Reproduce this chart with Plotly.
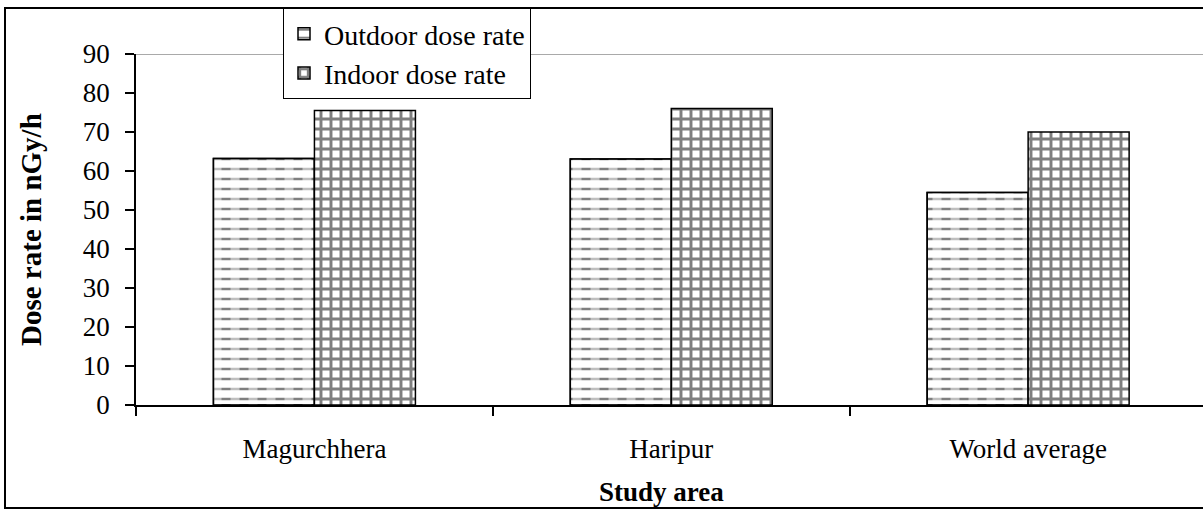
import plotly.graph_objects as go

categories = ["Magurchhera", "Haripur", "World average"]
outdoor = [63.2, 63.1, 54.5]
indoor = [75.5, 76.0, 70.0]
series_names = ["Outdoor dose rate", "Indoor dose rate"]
y_ticks = [0, 10, 20, 30, 40, 50, 60, 70, 80, 90]

W, H = 1203, 512
L, R, T, B = 136, 0, 54, 107
pw, ph = W - L - R, H - T - B

def px(x):
    return (x - L) / pw

def py(y):
    return (H - B - y) / ph

FONT = "Liberation Serif"
bw = 0.283

fig = go.Figure()
fig.add_trace(go.Bar(
    x=categories, y=outdoor, name=series_names[0], width=bw, offset=-bw,
    marker=dict(color="white", line=dict(color="black", width=1.5),
                pattern=dict(shape="-", size=10, solidity=0.25, fgcolor="black", bgcolor="white")),
    legendgroup="a",
))
fig.add_trace(go.Bar(
    x=categories, y=outdoor, width=bw, offset=-bw, showlegend=False, hoverinfo="skip",
    marker=dict(color="rgba(0,0,0,0)", line=dict(color="black", width=1.5),
                pattern=dict(shape="|", size=18, solidity=0.5, fgcolor="white",
                             bgcolor="rgba(0,0,0,0)", fillmode="overlay")),
))
fig.add_trace(go.Bar(
    x=categories, y=indoor, name=series_names[1], width=bw, offset=0,
    marker=dict(color="white", line=dict(color="black", width=1.5),
                pattern=dict(shape="+", size=10, solidity=0.5, fgcolor="black", bgcolor="white")),
    legendgroup="b",
))

shapes = [
    dict(type="line", xref="paper", yref="y", x0=0, x1=1, y0=90, y1=90,
         line=dict(color="#8c8c8c", width=1.5), layer="below"),
    dict(type="rect", xref="paper", yref="paper", x0=px(5), x1=px(1215), y0=py(8), y1=py(508),
         line=dict(color="black", width=2), fillcolor="rgba(0,0,0,0)", layer="below"),
]

fig.update_layout(
    width=W, height=H,
    margin=dict(l=L, r=R, t=T, b=B),
    paper_bgcolor="white", plot_bgcolor="white",
    barmode="overlay",
    font=dict(family=FONT, color="black", size=27),
    showlegend=True,
    legend=dict(x=px(283), y=py(8), xanchor="left", yanchor="top",
                bgcolor="white", bordercolor="black", borderwidth=1,
                font=dict(size=28, family=FONT), tracegroupgap=5,
                traceorder="normal"),
    shapes=shapes,
    annotations=[
        dict(text="<b>Dose rate in nGy/h</b>", xref="paper", yref="paper",
             x=px(31), y=py(230), textangle=-90, showarrow=False,
             font=dict(size=29, family=FONT), xanchor="center", yanchor="middle"),
        dict(text="<b>Study area</b>", xref="paper", yref="paper",
             x=px(661), y=py(492), showarrow=False,
             font=dict(size=27, family=FONT), xanchor="center", yanchor="middle"),
    ],
)
fig.update_xaxes(
    type="category", range=[-0.5, 2.49], showline=True, linecolor="black", linewidth=1.5,
    ticks="outside", tickson="boundaries", ticklen=9, tickwidth=1.5, tickcolor="black",
    tickfont=dict(size=27, family=FONT), ticklabelstandoff=19, showgrid=False, zeroline=False,
)
fig.update_yaxes(
    range=[0, 90], tickvals=y_ticks, showline=True, linecolor="black", linewidth=1.5,
    ticks="outside", ticklen=9, tickwidth=1.5, tickcolor="black",
    tickfont=dict(size=27, family=FONT), ticklabelstandoff=10, showgrid=False, zeroline=False,
)

fig.write_html("out.html", config={"displayModeBar": False},
               post_script="document.body.style.margin='0';")
